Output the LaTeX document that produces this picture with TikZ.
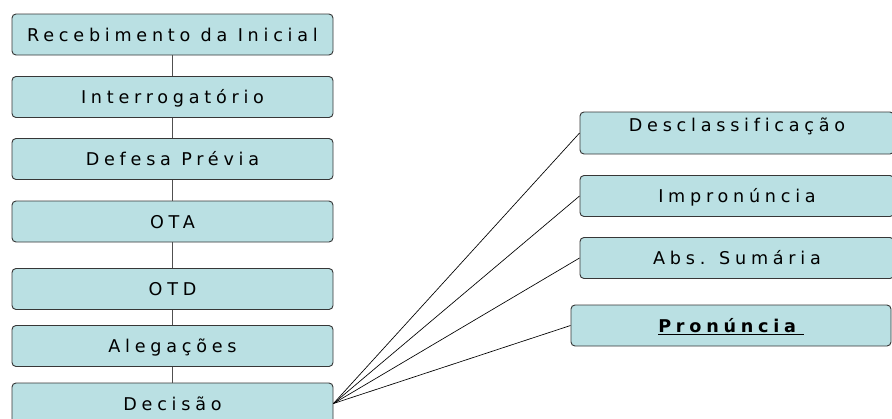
\documentclass[tikz,border=0pt]{standalone}
\usepackage{fontspec}
\newfontfamily\boxfont{DejaVu Sans}[LetterSpace=27,Ligatures=NoCommon]
\usepackage{tikz}
\usetikzlibrary{positioning}
\definecolor{boxfill}{RGB}{186,224,227}
\definecolor{boxline}{RGB}{55,55,55}
\definecolor{linkgray}{RGB}{80,80,80}

\begin{document}
\begin{tikzpicture}[x=0.75pt,y=-0.75pt,
  st/.style={rectangle,draw=boxline,fill=boxfill,line width=0.7pt,rounded corners=3pt,
    minimum width=240.75pt,inner xsep=0pt,inner ysep=0pt,text height=20.25pt,text depth=10.5pt,
    font=\boxfont\fontsize{13.2}{16}\selectfont},
  res/.style={st,minimum width=235.5pt}]
  \useasboundingbox (0,0) rectangle (892,418);
  % left column
  \node[st] (rec) at (172.5,34.5) {Recebimento da Inicial};
  \node[st] (int) at (172.5,97) {Interrogatório};
  \node[st] (def) at (172.5,159) {Defesa Prévia};
  \node[st] (ota) at (172.5,221.5) {OTA};
  \node[st] (otd) at (172.5,289) {OTD};
  \node[st] (ale) at (172.5,346) {Alegações};
  \node[st] (dec) at (172.5,403.5) {Decisão};
  \draw[linkgray,line width=0.9pt] (rec) -- (int) -- (def) -- (ota) -- (otd) -- (ale) -- (dec);

  % results
  \node[res,text height=14.25pt,text depth=17.25pt] (des) at (737,133) {Desclassificação};
  \node[res] (imp) at (737,196) {Impronúncia};
  \node[res] (abs) at (737,258) {Abs. Sumária};
  \node[res,minimum width=240pt] (pro) at (731,325.5) {\underline{\textbf{Pronúncia}\,}};
  \foreach \r in {des,imp,abs,pro}
    \draw[line width=0.5pt] (dec.east) -- (\r.west);
\end{tikzpicture}
\end{document}
